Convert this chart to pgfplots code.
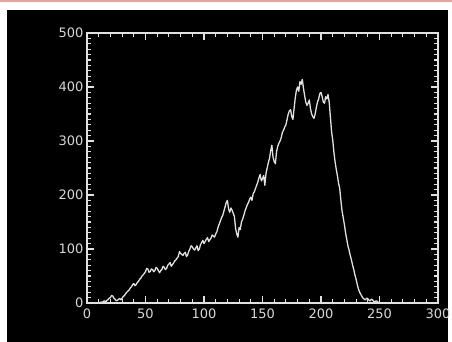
\documentclass[border=0pt]{standalone}
\usepackage{pgfplots}
\pgfplotsset{compat=1.18}
\usepackage{fontspec}
\setmainfont{DejaVu Sans}
\definecolor{fg}{RGB}{225,225,225}
\definecolor{lab}{RGB}{215,215,215}
\definecolor{topred}{RGB}{222,165,165}
\begin{document}
\begin{tikzpicture}[x=1pt,y=1pt]
\useasboundingbox (0,0) rectangle (452,342);
\fill[white] (0,0) rectangle (452,342);
\draw[topred, line width=2pt] (0,340.5) -- (452,340.5);
\fill[black] (7,0) rectangle (448,332);
\begin{axis}[
  at={(87pt,39pt)}, anchor=south west,
  width=351pt, height=270pt, scale only axis,
  xmin=0, xmax=300, ymin=0, ymax=500,
  xtick={0,50,...,300}, ytick={0,100,...,500},
  minor xtick={0,10,...,300}, minor ytick={0,10,...,500},
  tick align=inside,
  major tick length=7pt, minor tick length=4pt,
  axis line style={fg, line width=1.3pt},
  major tick style={fg, line width=1.2pt},
  minor tick style={fg, line width=1.1pt},
  /pgf/number format/assume math mode=true,
  tick label style={font=\fontsize{13}{15}\selectfont, text=lab},
  xticklabel style={yshift=-2pt},
  yticklabel style={xshift=0pt},
  axis background/.style={fill=black},
]
\addplot[fg, line width=1.3pt, line join=round] coordinates {
(8,0)(9,0)(10,1)(11,0)(12,2)(13,1)(14,3)(15,4)(16,2)(17,5)(18,6)(19,9)(20,10)(21,14)(22,13)(23,9)(24,7)(25,4)(26,5)(27,7)(28,8)(29,6)(30,9)(31,12)(32,14)(33,17)(34,20)(35,22)(36,24)(37,28)(38,30)(39,34)(40,36)(41,32)(42,34)(43,38)(44,40)(45,44)(46,46)(47,50)(48,52)(49,55)(50,58)(51,64)(52,63)(53,57)(54,58)(55,63)(56,62)(57,58)(58,60)(59,66)(60,64)(61,60)(62,56)(63,60)(64,62)(65,68)(66,66)(67,62)(68,64)(69,70)(70,72)(71,75)(72,68)(73,71)(74,74)(75,78)(76,80)(77,83)(78,86)(79,95)(80,92)(81,90)(82,88)(83,92)(84,94)(85,86)(86,89)(87,96)(88,100)(89,106)(90,104)(91,100)(92,98)(93,102)(94,106)(95,97)(96,100)(97,108)(98,112)(99,116)(100,110)(101,114)(102,118)(103,121)(104,114)(105,117)(106,120)(107,126)(108,124)(109,122)(110,128)(111,132)(112,140)(113,146)(114,152)(115,158)(116,162)(117,170)(118,178)(119,186)(120,190)(121,174)(122,168)(123,176)(124,172)(125,166)(126,160)(127,138)(128,128)(129,122)(130,140)(131,136)(132,150)(133,155)(134,162)(135,170)(136,176)(137,182)(138,186)(139,192)(140,196)(141,190)(142,202)(143,206)(144,212)(145,218)(146,224)(147,232)(148,238)(149,226)(150,230)(151,236)(152,218)(153,240)(154,250)(155,260)(156,268)(157,282)(158,292)(159,270)(160,262)(161,258)(162,280)(163,290)(164,296)(165,300)(166,306)(167,316)(168,320)(169,326)(170,330)(171,340)(172,350)(173,356)(174,358)(175,345)(176,340)(177,360)(178,380)(179,394)(180,400)(181,392)(182,410)(183,405)(184,414)(185,398)(186,384)(187,372)(188,366)(189,370)(190,376)(191,360)(192,350)(193,345)(194,342)(195,350)(196,362)(197,372)(198,378)(199,388)(200,390)(201,382)(202,372)(203,370)(204,382)(205,378)(206,386)(207,372)(208,345)(209,318)(210,302)(211,280)(212,262)(213,248)(214,236)(215,222)(216,212)(217,190)(218,170)(219,158)(220,145)(221,130)(222,118)(223,106)(224,98)(225,88)(226,80)(227,70)(228,62)(229,52)(230,44)(231,34)(232,26)(233,20)(234,16)(235,12)(236,9)(237,7)(238,6)(239,9)(240,8)(241,5)(242,4)(243,7)(244,6)(245,3)(246,2)(247,4)(248,3)(249,1)(250,0)
};
\end{axis}
\end{tikzpicture}
\end{document}
